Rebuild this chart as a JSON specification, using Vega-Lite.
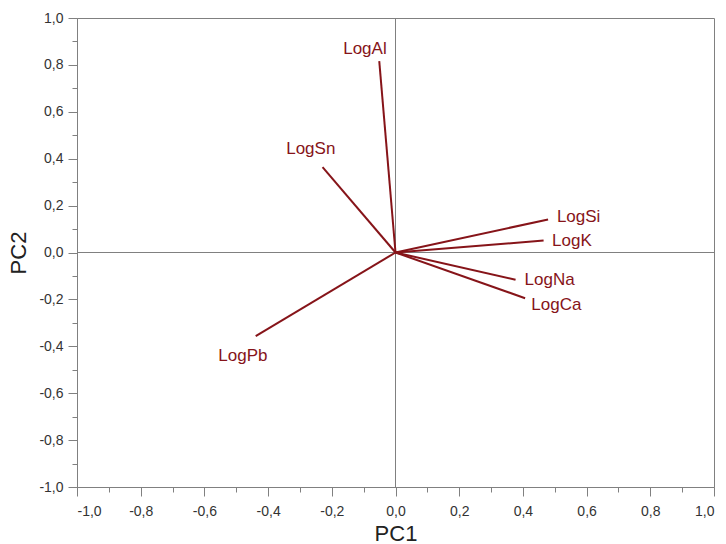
{
  "$schema": "https://vega.github.io/schema/vega-lite/v6.json",
  "width": 637,
  "height": 469,
  "autosize": {"type": "none"},
  "padding": {"left": 77, "top": 18, "right": 12, "bottom": 57},
  "background": "white",
  "config": {
    "view": {"stroke": "#808080", "strokeWidth": 1},
    "font": "Liberation Sans",
    "axis": {"grid": false, "domainColor": "#808080", "tickColor": "#808080", "labelColor": "#333333", "labelFontSize": 14, "titleFontSize": 22, "titleFontWeight": "normal", "titleColor": "#222222", "labelFont": "Liberation Sans", "titleFont": "Liberation Sans"}
  },
  "data": {
    "values": [
      {"var": "LogAl", "x": -0.051, "y": 0.816, "lx": -0.096, "ly": 0.868},
      {"var": "LogSn", "x": -0.229, "y": 0.364, "lx": -0.266, "ly": 0.442},
      {"var": "LogSi", "x": 0.479, "y": 0.141, "lx": 0.575, "ly": 0.151},
      {"var": "LogK", "x": 0.465, "y": 0.051, "lx": 0.554, "ly": 0.051},
      {"var": "LogNa", "x": 0.377, "y": -0.116, "lx": 0.484, "ly": -0.116},
      {"var": "LogCa", "x": 0.407, "y": -0.195, "lx": 0.505, "ly": -0.222},
      {"var": "LogPb", "x": -0.439, "y": -0.357, "lx": -0.479, "ly": -0.443}
    ]
  },
  "layer": [
    {
      "mark": {"type": "rule", "stroke": "#808080", "strokeWidth": 1},
      "encoding": {
        "x": {"datum": 0, "type": "quantitative", "scale": {"domain": [-1, 1], "nice": false, "zero": false},
          "axis": {"orient": "bottom", "values": [-0.9, -0.7, -0.5, -0.3, -0.1, 0.1, 0.3, 0.5, 0.7, 0.9], "tickSize": 5, "labels": false, "domain": false, "title": null}}
      }
    },
    {
      "mark": {"type": "rule", "stroke": "#808080", "strokeWidth": 1},
      "encoding": {
        "y": {"datum": 0, "type": "quantitative", "scale": {"domain": [-1, 1], "nice": false, "zero": false},
          "axis": {"orient": "left", "values": [-0.9, -0.7, -0.5, -0.3, -0.1, 0.1, 0.3, 0.5, 0.7, 0.9], "tickSize": 5, "labels": false, "domain": false, "title": null}}
      }
    },
    {
      "mark": {"type": "rule", "stroke": "#861419", "strokeWidth": 2},
      "encoding": {
        "x": {"field": "x", "type": "quantitative", "scale": {"domain": [-1, 1], "nice": false, "zero": false},
          "axis": {"orient": "bottom", "values": [-1, -0.8, -0.6, -0.4, -0.2, 0, 0.2, 0.4, 0.6, 0.8, 1], "tickSize": 9, "labelPadding": 8,
            "labelExpr": "replace(replace(format(datum.value, '.1f'), '.', ','), '\u2212', '-')", "title": "PC1", "titlePadding": 5}},
        "y": {"field": "y", "type": "quantitative", "scale": {"domain": [-1, 1], "nice": false, "zero": false},
          "axis": {"orient": "left", "values": [-1, -0.8, -0.6, -0.4, -0.2, 0, 0.2, 0.4, 0.6, 0.8, 1], "tickSize": 9, "labelPadding": 5,
            "labelExpr": "replace(replace(format(datum.value, '.1f'), '.', ','), '\u2212', '-')", "title": "PC2", "titlePadding": 8}},
        "x2": {"datum": 0},
        "y2": {"datum": 0}
      }
    },
    {
      "mark": {"type": "text", "color": "#861419", "fontSize": 17, "align": "center", "baseline": "middle", "font": "Liberation Sans"},
      "encoding": {
        "x": {"field": "lx", "type": "quantitative", "axis": null},
        "y": {"field": "ly", "type": "quantitative", "axis": null},
        "text": {"field": "var"}
      }
    }
  ],
  "resolve": {"axis": {"x": "independent", "y": "independent"}}
}
